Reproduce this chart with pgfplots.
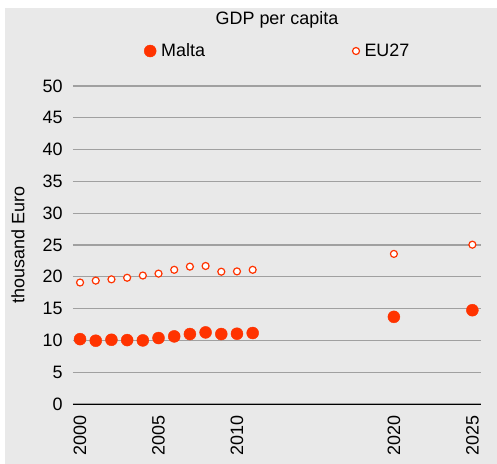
\documentclass[border=0pt]{standalone}
\usepackage{pgfplots}
\pgfplotsset{compat=1.18}
\usepackage{fontspec}
\setmainfont{Liberation Sans}
\definecolor{mc}{RGB}{255,51,0}
\definecolor{bg}{RGB}{233,233,233}
\definecolor{gridc}{RGB}{160,160,160}
\newcommand{\cf}{\fontsize{18}{21}\selectfont}
\begin{document}
\begin{tikzpicture}
\useasboundingbox (-73bp,-60bp) rectangle (424bp,404bp);
\fill[white] (-73bp,-60bp) rectangle (424bp,404bp);
\fill[bg] (-68bp,-60bp) rectangle (424bp,396bp);
\begin{axis}[
  at={(0,0)}, anchor=origin,
  scale only axis, width=408bp, height=318bp,
  xmin=1999.55, xmax=2025.55, ymin=0, ymax=50,
  axis x line=bottom, axis y line=left,
  x axis line style={black, line width=1bp, -},
  y axis line style={draw=none},
  xtick={2000,2005,2010,2020,2025},
  ytick={0,5,...,50},
  major tick length=0pt,
  ymajorgrids, grid style={gridc, line width=1.2bp},
  /pgf/number format/assume math mode=true,
  /pgf/number format/1000 sep={},
  tick label style={font=\cf, black},
  x tick label style={rotate=90, anchor=east},
  xticklabel shift=8bp,
  yticklabel shift=7bp,
  ylabel={thousand Euro},
  ylabel style={font=\cf, at={(axis description cs:-0.1348,0.5)}, anchor=center},
  title={GDP per capita},
  title style={font=\cf, at={(axis description cs:0.5,1.19)}, anchor=center},
  legend columns=2,
  legend style={font=\cf, draw=none, fill=none, inner sep=0pt,
    at={(axis description cs:0.174,1.11)}, anchor=west,
    cells={anchor=west},
    /tikz/every odd column/.append style={column sep=3bp},
    /tikz/every even column/.append style={column sep=145.5bp}},
  legend image code/.code={\draw[mark repeat=2,mark phase=2,#1] plot coordinates {(0bp,0bp)(6bp,0bp)(12bp,0bp)};},
  clip=false,
]
\addplot[only marks, mark=*, mark size=6bp, color=mc, mark options={fill=mc, draw=mc}]
coordinates {
(2000,10.2)(2001,9.95)(2002,10.1)(2003,10.05)(2004,10.0)(2005,10.37)
(2006,10.63)(2007,11.0)(2008,11.26)(2009,11.0)(2010,11.05)(2011,11.16)
(2020,13.7)(2025,14.75)
};
\addlegendentry{Malta}
\addplot[only marks, mark=*, mark size=3.5bp, color=mc, mark options={fill=white, draw=mc, line width=1.2bp}]
coordinates {
(2000,19.1)(2001,19.4)(2002,19.6)(2003,19.85)(2004,20.2)(2005,20.5)
(2006,21.1)(2007,21.6)(2008,21.7)(2009,20.8)(2010,20.85)(2011,21.1)
(2020,23.6)(2025,25.05)
};
\addlegendentry{EU27}
\end{axis}
\end{tikzpicture}
\end{document}
